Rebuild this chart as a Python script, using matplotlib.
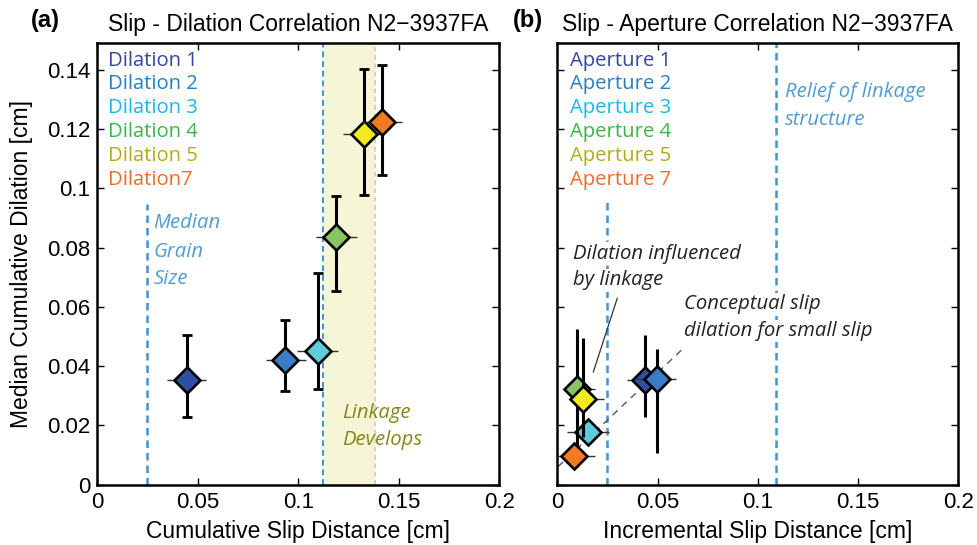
import matplotlib
matplotlib.use("Agg")
import matplotlib.pyplot as plt

# ---- data ----
labels_a = ["Dilation 1", "Dilation 2", "Dilation 3", "Dilation 4", "Dilation 5", "Dilation7"]
labels_b = ["Aperture 1", "Aperture 2", "Aperture 3", "Aperture 4", "Aperture 5", "Aperture 7"]
text_colors = ["#35479b", "#2a7dc2", "#1cb6ea", "#3db54a", "#b2ab1c", "#f26a2a"]
face_colors = ["#2f4fa2", "#3a7cc6", "#5fcbdc", "#8bc563", "#f2ea1c", "#f27b22"]

# (a) cumulative slip vs median cumulative dilation
slip_cum = [0.0445, 0.0936, 0.1097, 0.1190, 0.1328, 0.1415]
slip_cum_lo = [0.0346, 0.0839, 0.0994, 0.1087, 0.1224, 0.1315]
slip_cum_hi = [0.0540, 0.1037, 0.1200, 0.1294, 0.1428, 0.1517]
dil_med = [0.0354, 0.0422, 0.0452, 0.0836, 0.1183, 0.1226]
dil_lo = [0.0230, 0.0318, 0.0323, 0.0655, 0.0979, 0.1045]
dil_hi = [0.0506, 0.0557, 0.0714, 0.0975, 0.1402, 0.1418]

# (b) incremental slip vs aperture
slip_inc = [0.0437, 0.0496, 0.0155, 0.0097, 0.0130, 0.0085]
slip_inc_lo = [0.0346, 0.0400, 0.0050, 0.0043, 0.0077, 0.0005]
slip_inc_hi = [0.0530, 0.0592, 0.0258, 0.0188, 0.0233, 0.0188]
ap_med = [0.0353, 0.0356, 0.0179, 0.0322, 0.0288, 0.0097]
ap_lo = [0.0229, 0.0106, 0.0160, 0.0060, 0.0160, 0.0080]
ap_hi = [0.0505, 0.0457, 0.0200, 0.0524, 0.0494, 0.0115]

grain_size = 0.0247
linkage_start = 0.1121
linkage_end = 0.138
relief_slip = 0.109
concept_x = [0.0004, 0.0636]
concept_y = [0.0061, 0.0465]
pointer_x = [0.0299, 0.0180]
pointer_y = [0.0629, 0.0381]

xticks = [0, 0.05, 0.1, 0.15, 0.2]
xtick_labels = ["0", "0.05", "0.1", "0.15", "0.2"]
yticks = [0, 0.02, 0.04, 0.06, 0.08, 0.1, 0.12, 0.14]
ytick_labels = ["0", "0.02", "0.04", "0.06", "0.08", "0.1", "0.12", "0.14"]

sans = "Liberation Sans"
hum = "Open Sans"
dash_blue = "#3f93d8"
note_blue = "#4f9bd6"
note_size = 14.6

fig = plt.figure(figsize=(9.78, 5.45), dpi=100)
ax_a = fig.add_axes([0.0995, 0.1106, 0.4110, 0.8099])
ax_b = fig.add_axes([0.5698, 0.1106, 0.4100, 0.8099])


def style_axes(ax, show_ylabels):
    ax.set_xlim(0, 0.2)
    ax.set_ylim(0, 0.149)
    ax.set_xticks(xticks)
    ax.set_xticklabels(xtick_labels, fontname=sans, fontsize=16)
    ax.set_yticks(yticks)
    if show_ylabels:
        ax.set_yticklabels(ytick_labels, fontname=sans, fontsize=16)
    else:
        ax.set_yticklabels([])
    ax.tick_params(direction="in", top=True, right=True, length=5, width=1, pad=5)
    for s in ax.spines.values():
        s.set_linewidth(1.8)


def draw_points(ax, x, xlo, xhi, y, ylo, yhi, caps):
    for i in range(len(x)):
        z = 5 + i
        ax.errorbar([x[i]], [y[i]], xerr=[[x[i] - xlo[i]], [xhi[i] - x[i]]],
                    fmt="none", ecolor="#333333", elinewidth=1.0, zorder=z)
        ax.errorbar([x[i]], [y[i]], yerr=[[y[i] - ylo[i]], [yhi[i] - y[i]]],
                    fmt="none", ecolor="black", elinewidth=2.2,
                    capsize=3.5 if caps else 0, capthick=2, zorder=z)
        ax.plot(x[i], y[i], marker="D", ms=13, mfc=face_colors[i], mec="black",
                mew=1.9, zorder=z + 0.5)


def draw_labels(ax, x0, labels):
    ys = [0.1432, 0.1354, 0.1273, 0.1192, 0.1111, 0.1027]
    for lab, yy, c in zip(labels, ys, text_colors):
        ax.text(x0, yy, lab, color=c, fontname=hum, fontsize=note_size, va="center", ha="left")


# ---- panel (a) ----
style_axes(ax_a, True)
ax_a.axvspan(linkage_start, linkage_end, color="#f6f6d6", zorder=0, lw=0)
ax_a.axvline(linkage_start, color=dash_blue, ls=(0, (3, 2)), lw=1.4, zorder=1)
ax_a.axvline(linkage_end, color="#c8ccd8", ls=(0, (3, 2)), lw=1.2, zorder=1)
ax_a.plot([grain_size, grain_size], [0, 0.0946], color=dash_blue, ls=(0, (3, 2)), lw=1.8, zorder=1)
draw_points(ax_a, slip_cum, slip_cum_lo, slip_cum_hi, dil_med, dil_lo, dil_hi, True)
draw_labels(ax_a, 0.0053, labels_a)
for txt, yy in zip(["Median", "Grain", "Size"], [0.0882, 0.0786, 0.0694]):
    ax_a.text(0.0279, yy, txt, color=note_blue, fontname=hum, style="italic",
              fontsize=note_size, va="center")
for txt, yy in zip(["Linkage", "Develops"], [0.0241, 0.0151]):
    ax_a.text(0.1216, yy, txt, color="#85851a", fontname=hum, style="italic",
              fontsize=note_size, va="center")
ax_a.set_xlabel("Cumulative Slip Distance [cm]", fontname=sans, fontsize=16.5, labelpad=5)
ax_a.set_ylabel("Median Cumulative Dilation [cm]", fontname=sans, fontsize=16.5, labelpad=10)
ax_a.set_title("Slip - Dilation Correlation N2\u22123937FA", fontname=sans, fontsize=16.5, pad=9)
fig.text(0.032, 0.962, "(a)", fontname=sans, fontweight="bold", fontsize=17, va="center")

# ---- panel (b) ----
style_axes(ax_b, False)
ax_b.plot([grain_size, grain_size], [0, 0.096], color=dash_blue, ls=(0, (3, 2)), lw=1.8, zorder=1)
ax_b.axvline(relief_slip, color=dash_blue, ls=(0, (3, 2)), lw=1.8, zorder=1)
ax_b.plot(concept_x, concept_y, color="#555555", ls=(0, (5, 4)), lw=1.0, zorder=2)
ax_b.plot(pointer_x, pointer_y, color="#333333", lw=0.9, zorder=2)
draw_points(ax_b, slip_inc, slip_inc_lo, slip_inc_hi, ap_med, ap_lo, ap_hi, False)
draw_labels(ax_b, 0.0063, labels_b)
for txt, yy in zip(["Relief of linkage", "structure"], [0.1326, 0.1230]):
    ax_b.text(0.1136, yy, txt, color=note_blue, fontname=hum, style="italic",
              fontsize=note_size, va="center")
for txt, yy in zip(["Dilation influenced", "by linkage"], [0.0780, 0.0690]):
    ax_b.text(0.008, yy, txt, color="#222222", fontname=hum, style="italic", fontsize=note_size,
              va="center", zorder=3,
              bbox=dict(facecolor="white", edgecolor="none", pad=1))
for txt, yy in zip(["Conceptual slip", "dilation for small slip"], [0.0609, 0.0519]):
    ax_b.text(0.0633, yy, txt, color="#222222", fontname=hum, style="italic", fontsize=note_size,
              va="center", zorder=3,
              bbox=dict(facecolor="white", edgecolor="none", pad=1))
ax_b.set_xlabel("Incremental Slip Distance [cm]", fontname=sans, fontsize=16.5, labelpad=5)
ax_b.set_title("Slip - Aperture Correlation N2\u22123937FA", fontname=sans, fontsize=16.5, pad=9)
fig.text(0.524, 0.962, "(b)", fontname=sans, fontweight="bold", fontsize=17, va="center")

fig.savefig("out.png", dpi=100)
